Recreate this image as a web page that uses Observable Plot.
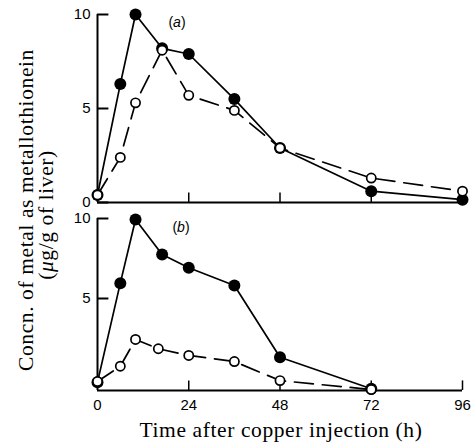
<!DOCTYPE html>
<html><head><meta charset="utf-8">
<script src="https://cdn.jsdelivr.net/npm/d3@7"></script>
<script src="https://cdn.jsdelivr.net/npm/@observablehq/plot@0.6"></script>
<style>
body{margin:0;background:#fff;}
#wrap{position:relative;width:475px;height:444px;overflow:hidden;}
#wrap svg{position:absolute;left:0;top:0;}
</style></head><body><div id="wrap"></div>
<script>
// Panel (a)
const hoursA = [0, 6, 10, 17, 24, 36, 48, 72, 96];
const filledA = [0.4, 6.3, 10.0, 8.2, 7.9, 5.5, 2.9, 0.6, 0.15];
const openA = [0.4, 2.4, 5.3, 8.1, 5.7, 4.9, 2.9, 1.3, 0.6];
// Panel (b)
const hoursFilledB = [0, 6, 10, 17, 24, 36, 48, 72];
const filledB = [-0.23, 5.96, 9.94, 7.75, 6.92, 5.81, 1.33, -0.64];
const hoursOpenB = [0, 6, 10, 16, 24, 36, 48, 72];
const openB = [-0.19, 0.77, 2.44, 1.86, 1.44, 1.06, -0.13, -0.69];
// ticks
const yTicksA = [0, 5, 10];
const yTicksB = [5, 10];
const xTickMarksA = [24, 48, 72];
const xTicksB = [0, 24, 48, 72, 96];
const yMinB = -0.75;

const W = 475, H = 444;
const sans = "Liberation Sans, Arial, sans-serif";
const serif = "Liberation Serif, Times New Roman, serif";
const rows = (xs, ys) => xs.map((h, i) => ({h, v: ys[i]}));

function seriesMarks(fx, fy, ox, oy) {
  return [
    Plot.line(rows(fx, fy), {x: "h", y: "v", stroke: "black", strokeWidth: 1.7}),
    Plot.line(rows(ox, oy), {x: "h", y: "v", stroke: "black", strokeWidth: 1.7, strokeDasharray: "19,9"}),
    Plot.dot(rows(fx, fy), {x: "h", y: "v", r: 6, fill: "black", stroke: "none"}),
    Plot.dot(rows(ox, oy), {x: "h", y: "v", r: 4.6, fill: "white", stroke: "black", strokeWidth: 1.7})
  ];
}

const plotA = Plot.plot({
  width: W, height: H,
  marginLeft: 97, marginRight: 13, marginTop: 14, marginBottom: H - 202,
  x: {domain: [0, 96], axis: null},
  y: {domain: [0, 10], axis: null},
  style: {background: "transparent", overflow: "visible"},
  marks: [
    Plot.ruleX([0], {y1: 0, y2: 10, strokeWidth: 2}),
    Plot.ruleY([0], {x1: 0, x2: 96, strokeWidth: 2}),
    Plot.ruleY(yTicksA, {x1: 0, x2: 3, strokeWidth: 2}),
    Plot.ruleX(xTickMarksA, {y1: 0, y2: 0.5, strokeWidth: 1.5}),
    Plot.axisY(yTicksA, {tickSize: 0, tickPadding: 7, fontSize: 15, fontFamily: sans, label: null}),
    ...seriesMarks(hoursA, filledA, hoursA, openA)
  ]
});

const plotB = Plot.plot({
  width: W, height: H,
  marginLeft: 97, marginRight: 13, marginTop: 218, marginBottom: H - 390,
  x: {domain: [0, 96], axis: null},
  y: {domain: [yMinB, 10], axis: null},
  style: {background: "transparent", overflow: "visible"},
  marks: [
    Plot.ruleX([0], {y1: yMinB, y2: 10, strokeWidth: 2}),
    Plot.ruleY([yMinB], {x1: 0, x2: 96, strokeWidth: 2}),
    Plot.ruleY(yTicksB, {x1: 0, x2: 3, strokeWidth: 2}),
    Plot.ruleX(xTicksB.slice(1), {y1: yMinB, y2: yMinB + 0.6, strokeWidth: 1.5}),
    Plot.axisY(yTicksB, {tickSize: 0, tickPadding: 7, fontSize: 15, fontFamily: sans, label: null}),
    Plot.axisX(xTicksB, {tickSize: 0, tickPadding: 9, fontSize: 15, fontFamily: sans, label: null}),
    ...seriesMarks(hoursFilledB, filledB, hoursOpenB, openB)
  ]
});

const wrap = document.getElementById("wrap");
wrap.appendChild(plotA);
wrap.appendChild(plotB);

// text overlay
const svg = d3.select(wrap).append("svg").attr("width", W).attr("height", H);
const lab = svg.append("g").attr("font-family", serif).attr("font-size", 21.5).attr("fill", "black");
lab.append("text").attr("transform", "translate(33,210) rotate(-90)").attr("text-anchor", "middle")
  .attr("letter-spacing", "0.6").text("Concn. of metal as metallothionein");
const l2 = lab.append("text").attr("transform", "translate(53,215) rotate(-90)").attr("text-anchor", "middle")
  .attr("letter-spacing", "0.6");
l2.append("tspan").text("(");
l2.append("tspan").attr("font-style", "italic").text("μ");
l2.append("tspan").text("g/g of liver)");
lab.append("text").attr("x", 281).attr("y", 437).attr("text-anchor", "middle")
  .attr("letter-spacing", "0.6").text("Time after copper injection (h)");

const pl = svg.append("g").attr("font-family", sans).attr("font-size", 14).attr("fill", "black").attr("text-anchor", "middle");
[["a", 177, 27], ["b", 181, 232]].forEach(([t, x, y]) => {
  const el = pl.append("text").attr("x", x).attr("y", y);
  el.append("tspan").text("(");
  el.append("tspan").attr("font-style", "italic").text(t);
  el.append("tspan").text(")");
});
</script>
</body></html>
